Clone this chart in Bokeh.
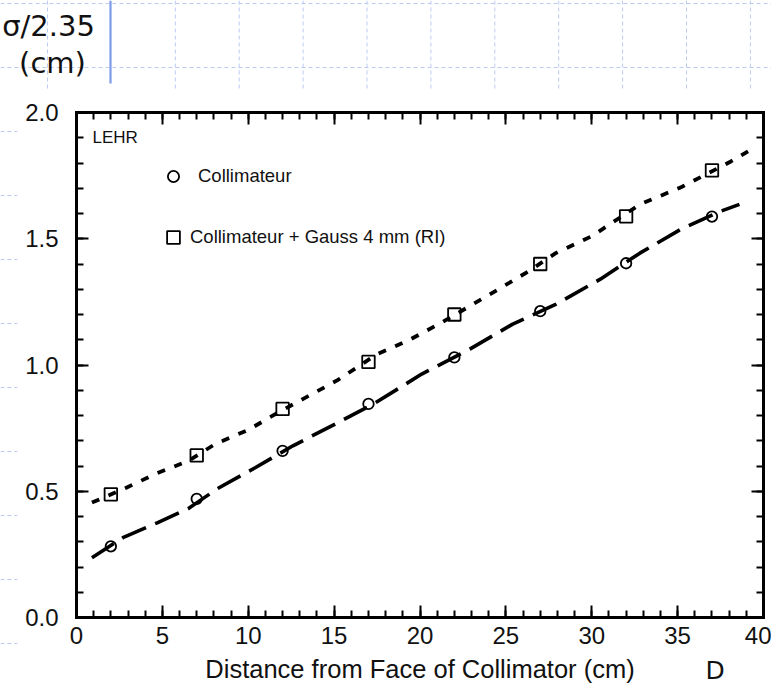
from bokeh.plotting import figure
from bokeh.models import (LinearAxis, FixedTicker, PrintfTickFormatter, Legend, LegendItem,
                          Label, Arrow, Range1d)
from bokeh.embed import file_html
from bokeh.resources import INLINE

# ---------------- data ----------------
distance = [2, 7, 12, 17, 22, 27, 32, 37]
sigma_collimateur = [0.282, 0.470, 0.660, 0.846, 1.030, 1.213, 1.403, 1.588]
sigma_gauss = [0.488, 0.642, 0.826, 1.012, 1.200, 1.400, 1.589, 1.771]

fit_collimateur_x = [0.9, 2.7, 4.7, 6.5, 8.2, 10.4, 12.6, 15.2, 17.4, 20.1, 22.9, 25.4, 27.9, 30.5, 32.8, 35.2, 37.5, 38.6]
fit_collimateur_y = [0.237, 0.316, 0.375, 0.431, 0.510, 0.593, 0.680, 0.771, 0.850, 0.964, 1.063, 1.162, 1.240, 1.340, 1.443, 1.538, 1.609, 1.636]

fit_gauss_x = [0.9, 2.9, 4.6, 6.5, 8.1, 10.0, 11.7, 13.2, 15.2, 17.5, 19.4, 21.2, 23.9, 26.3, 27.9, 30.0, 32.8, 35.2, 38.1, 39.1]
fit_gauss_y = [0.455, 0.514, 0.569, 0.620, 0.688, 0.743, 0.810, 0.866, 0.940, 1.043, 1.100, 1.166, 1.273, 1.370, 1.443, 1.510, 1.636, 1.704, 1.806, 1.846]

x_major_ticks = [0, 5, 10, 15, 20, 25, 30, 35, 40]
x_minor_ticks = [0, 1, 2, 3, 4, 5, 6, 7, 8, 9, 10, 11, 12, 13, 14, 15, 16, 17, 18, 19, 20,
                 21, 22, 23, 24, 25, 26, 27, 28, 29, 30, 31, 32, 33, 34, 35, 36, 37, 38, 39, 40]
y_major_ticks = [0.0, 0.5, 1.0, 1.5, 2.0]
y_minor_ticks = [0.0, 0.1, 0.2, 0.3, 0.4, 0.5, 0.6, 0.7, 0.8, 0.9, 1.0, 1.1, 1.2, 1.3, 1.4,
                 1.5, 1.6, 1.7, 1.8, 1.9, 2.0]

label_collimateur = "Collimateur"
label_gauss = "Collimateur + Gauss 4 mm (RI)"
x_title = "Distance from Face of Collimator (cm)"

# ---------------- layout constants ----------------
W, H = 771, 685
BOX_L, BOX_R, BOX_T, BOX_B = 76, 763, 112, 617   # pixel box of the chart's axes
X0, X1, Y0, Y1 = 0, 40, 0.0, 2.0
x_px = (BOX_R - BOX_L) / (X1 - X0)
y_px = (BOX_B - BOX_T) / (Y1 - Y0)
x_range = Range1d(X0 - BOX_L / x_px, X1 + (W - BOX_R) / x_px)
y_range = Range1d(Y0 - (H - BOX_B) / y_px, Y1 + BOX_T / y_px)


def sx(px):
    return px


def sy(py):
    return H - py


CHART_FONT = "Liberation Sans"
SLIDE_FONT = "DejaVu Sans"

p = figure(width=W, height=H, x_range=x_range, y_range=y_range,
           output_backend="svg", toolbar_location=None, min_border=0,
           x_axis_location=None, y_axis_location=None)
p.grid.visible = False
p.outline_line_color = None
p.background_fill_color = "white"
p.border_fill_color = "white"


def style_axis(ax, major, minor, show_labels):
    ax.ticker = FixedTicker(ticks=major, minor_ticks=minor)
    ax.axis_line_width = 3
    ax.axis_line_color = "black"
    ax.axis_line_cap = "square"
    ax.major_tick_in = 12
    ax.major_tick_out = 0
    ax.minor_tick_in = 7
    ax.minor_tick_out = 0
    ax.major_tick_line_width = 2
    ax.minor_tick_line_width = 2
    ax.major_tick_line_color = "black"
    ax.minor_tick_line_color = "black"
    if show_labels:
        ax.major_label_text_font = CHART_FONT
        ax.major_label_text_font_size = "24px"
        ax.major_label_text_color = "#111111"
    else:
        ax.major_label_text_color = None
        ax.major_label_text_font_size = "1px"
        ax.major_label_standoff = 0


xb = LinearAxis(axis_label=x_title, fixed_location=Y0, bounds=(X0, X1))
style_axis(xb, x_major_ticks, x_minor_ticks, True)
xb.major_label_standoff = 9
xb.axis_label_text_font = CHART_FONT
xb.axis_label_text_font_size = "25.5px"
xb.axis_label_text_font_style = "normal"
xb.axis_label_text_color = "#111111"
xb.axis_label_standoff = 8
p.add_layout(xb, "below")

yl = LinearAxis(formatter=PrintfTickFormatter(format="%.1f"), fixed_location=X0, bounds=(Y0, Y1))
style_axis(yl, y_major_ticks, y_minor_ticks, True)
yl.major_label_standoff = 18
p.add_layout(yl, "left")

xa = LinearAxis(fixed_location=Y1, bounds=(X0, X1))
style_axis(xa, x_major_ticks, x_minor_ticks, False)
p.add_layout(xa, "above")

yr = LinearAxis(fixed_location=X1, bounds=(Y0, Y1))
style_axis(yr, y_major_ticks, y_minor_ticks, False)
p.add_layout(yr, "right")

# ---------------- curves and points ----------------
p.line(fit_collimateur_x, fit_collimateur_y, line_color="black", line_width=3.6,
       line_dash="26 10")
p.line(fit_gauss_x, fit_gauss_y, line_color="black", line_width=3.8, line_dash="8 10")

r_c = p.scatter(distance, sigma_collimateur, marker="circle", size=10.5,
                line_color="black", line_width=1.8, fill_color=None)
r_g = p.scatter(distance, sigma_gauss, marker="square", size=12.5,
                line_color="black", line_width=1.8, fill_color=None)

leg1 = Legend(items=[LegendItem(label=label_collimateur, renderers=[r_c])],
              location=(159, sy(190)), glyph_width=28, glyph_height=28, label_height=28,
              label_standoff=11, padding=0, margin=0, spacing=0,
              background_fill_alpha=0, border_line_color=None,
              label_text_font=CHART_FONT, label_text_font_size="18.5px",
              label_text_color="#111111")
leg2 = Legend(items=[LegendItem(label=label_gauss, renderers=[r_g])],
              location=(157, sy(253)), glyph_width=32, glyph_height=32, label_height=32,
              label_standoff=1, padding=0, margin=0, spacing=0,
              background_fill_alpha=0, border_line_color=None,
              label_text_font=CHART_FONT, label_text_font_size="18.5px",
              label_text_color="#111111")
p.add_layout(leg1, "center")
p.add_layout(leg2, "center")

p.add_layout(Label(x=sx(92), y=sy(137), x_units="screen", y_units="screen", text="LEHR",
                   text_font=CHART_FONT, text_font_size="17px", text_color="#111111",
                   text_baseline="alphabetic"))

# ---------------- slide decorations ----------------
GRID_COLOR = "#bccbf2"


def seg(x0, y0, x1, y1, color, width, dash="solid"):
    p.add_layout(Arrow(start=None, end=None, x_start=sx(x0), y_start=sy(y0), x_end=sx(x1), y_end=sy(y1),
                       start_units="screen", end_units="screen",
                       line_color=color, line_width=width, line_dash=dash))


grid_v = [47, 174.8, 238.7, 302.6, 366.5, 430.4, 494.3, 558.2, 622.1, 686, 749.9]
for gx in grid_v:
    seg(gx, 0, gx, 90, GRID_COLOR, 1, "4 3")
for gy in [3, 67]:
    seg(0, gy, W, gy, GRID_COLOR, 1, "4 3")
for gy in [131, 195, 259, 323, 387, 451, 515, 579, 643]:
    seg(0, gy, 17, gy, GRID_COLOR, 1, "4 3")

seg(110, 0, 110, 83, "#7d9be6", 2.2)

p.add_layout(Label(x=sx(48), y=sy(25), x_units="screen", y_units="screen", text="σ/2.35",
                   text_font=SLIDE_FONT, text_font_size="29px", text_color="#111111",
                   text_align="center", text_baseline="alphabetic"))
p.add_layout(Label(x=sx(52), y=sy(62), x_units="screen", y_units="screen", text="(cm)",
                   text_font=SLIDE_FONT, text_font_size="29px", text_color="#111111",
                   text_align="center", text_baseline="alphabetic"))
p.add_layout(Label(x=sx(705), y=sy(670), x_units="screen", y_units="screen", text="D",
                   text_font=SLIDE_FONT, text_font_size="25px", text_color="#111111",
                   text_baseline="alphabetic"))

open("out.html", "w").write(file_html(p, INLINE))
